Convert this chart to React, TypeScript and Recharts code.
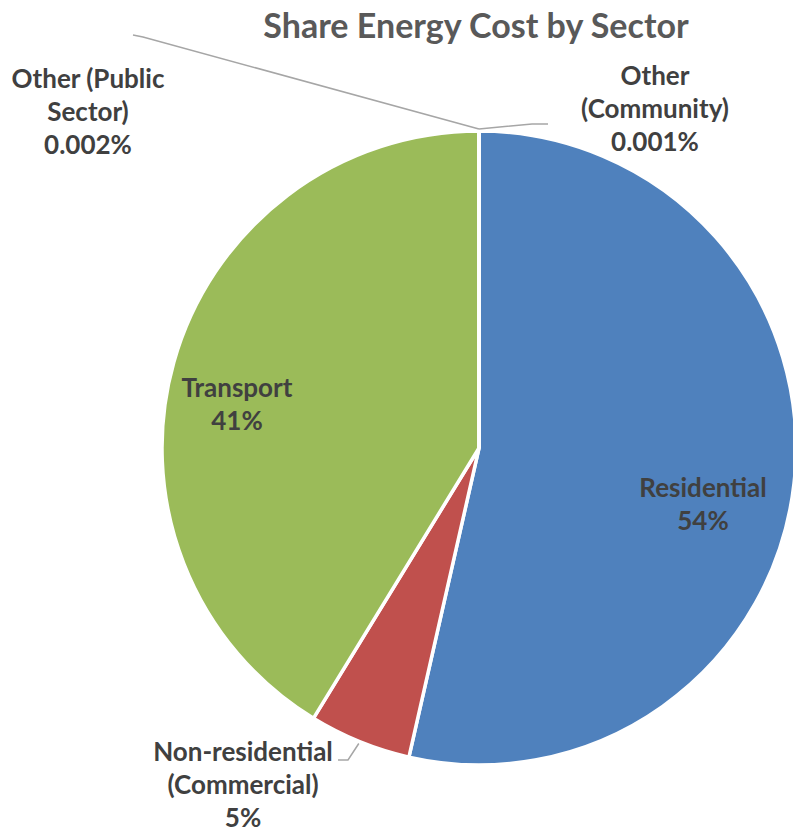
import { PieChart, Pie, Cell } from 'recharts'

const SECTORS = ['Residential', 'Non-residential (Commercial)', 'Transport', 'Other (Public Sector)', 'Other (Community)']
const SHARES = [53.55, 5.2, 41.25, 0.002, 0.001]
const LABEL_LINES = [['Residential'], ['Non-residential', '(Commercial)'], ['Transport'], ['Other (Public', 'Sector)'], ['Other', '(Community)']]
const COLORS = ['#4F81BD', '#C0504D', '#9BBB59', '#8064A2', '#4BACC6']
const TITLE = 'Share Energy Cost by Sector'

// label block anchor (centre x, first baseline) relative to pie centre
const LABEL_POS = [
  { dx: 224, dy: 49 },
  { dx: -236, dy: 313 },
  { dx: -242, dy: -51 },
  { dx: -391, dy: -360 },
  { dx: 176, dy: -363 },
]
// leader line bends, relative to pie centre
const LEADERS: (number[][] | null)[] = [
  null,
  [[-131, 312], [-141, 312]],
  null,
  [[-336, -411], [-346, -413]],
  [[53, -324], [69, -324]],
]

const FONT = 'Lato, "Open Sans", sans-serif'
const data = SECTORS.map((name, i) => ({ name, value: SHARES[i] }))

function renderLabel(props: any) {
  const { cx, cy, midAngle, outerRadius, percent, index } = props
  const RAD = Math.PI / 180
  const pct = percent * 100
  const pctText = pct >= 1 ? `${Math.round(pct)}%` : `${pct.toFixed(3)}%`
  const lines = [...LABEL_LINES[index], pctText]
  const pos = LABEL_POS[index]
  const lead = LEADERS[index]
  let pts = ''
  if (lead) {
    const sx = cx + (outerRadius + 2) * Math.cos(-midAngle * RAD)
    const sy = cy + (outerRadius + 2) * Math.sin(-midAngle * RAD)
    pts = [[sx, sy], ...lead.map(p => [cx + p[0], cy + p[1]])].map(p => p.join(',')).join(' ')
  }
  const x = cx + pos.dx
  return (
    <g key={`lbl-${index}`}>
      {lead && <polyline points={pts} fill="none" stroke="#A6A6A6" strokeWidth={1.5} />}
      <text x={x} y={cy + pos.dy} textAnchor="middle" fill="#404040" fontSize={26} fontWeight={700} fontFamily={FONT}>
        {lines.map((l, i) => <tspan key={i} x={x} dy={i ? 33 : 0}>{l}</tspan>)}
      </text>
    </g>
  )
}

export default function App() {
  return (
    <div style={{ position: 'relative', width: 793, height: 836, background: '#fff' }}>
      <style>{'body{margin:0}'}</style>
      <PieChart width={793} height={836} margin={{ top: 0, right: 0, bottom: 0, left: 0 }}>
        <Pie data={data} dataKey="value" nameKey="name" cx={479} cy={448} outerRadius={317}
          startAngle={90} endAngle={-270} stroke="#fff" strokeWidth={3.5}
          label={renderLabel} labelLine={false} isAnimationActive={false}>
          {data.map((d, i) => <Cell key={d.name} fill={COLORS[i]} />)}
        </Pie>
      </PieChart>
      <svg width={793} height={60} style={{ position: 'absolute', left: 0, top: 0, pointerEvents: 'none' }}>
        <text x={476} y={38} textAnchor="middle" fill="#595959" fontSize={34} fontWeight={700} fontFamily={FONT}>{TITLE}</text>
      </svg>
    </div>
  )
}
